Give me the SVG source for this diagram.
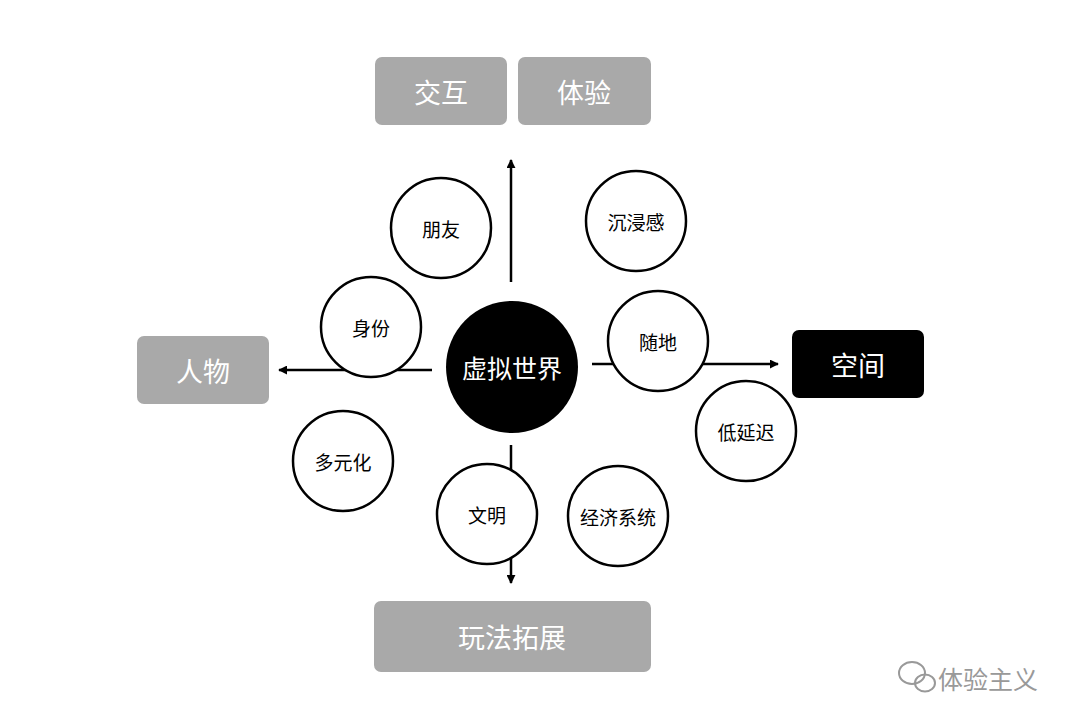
<svg xmlns="http://www.w3.org/2000/svg" width="1080" height="725" viewBox="0 0 1080 725">
<defs>
<marker id="ah" viewBox="0 0 10 10" refX="9" refY="5" markerWidth="9" markerHeight="9" markerUnits="userSpaceOnUse" orient="auto"><path d="M0,0 L10,5 L0,10 z" fill="#000"/></marker>
<style>
.box{fill:#a9a9a9}
.bt{font-family:"Noto Sans CJK SC",sans-serif;font-size:27px;fill:#fff;text-anchor:middle;dominant-baseline:central}
.c{fill:#fff;stroke:#000;stroke-width:2.5}
.ct{font-family:"Noto Sans CJK SC",sans-serif;font-size:19px;fill:#000;text-anchor:middle;dominant-baseline:central}
.ln{stroke:#000;stroke-width:2.5;fill:none;marker-end:url(#ah)}
</style>
</defs>
<rect width="1080" height="725" fill="#fff"/>
<g id="connectors">
<line class="ln" x1="511" y1="282" x2="511" y2="160"/>
<line class="ln" x1="511" y1="445" x2="511" y2="583"/>
<line class="ln" x1="432" y1="370" x2="279" y2="370"/>
<line class="ln" x1="592" y1="364" x2="778" y2="364"/>
</g>
<g id="n-jiaohu"><rect class="box" x="375" y="57" width="132" height="68" rx="7"/><text class="bt" x="441" y="91">交互</text></g>
<g id="n-tiyan"><rect class="box" x="518" y="57" width="133" height="68" rx="7"/><text class="bt" x="584" y="91">体验</text></g>
<g id="n-renwu"><rect class="box" x="137" y="336" width="132" height="68" rx="7"/><text class="bt" x="203" y="370">人物</text></g>
<g id="n-kongjian"><rect x="792" y="330" width="132" height="68" rx="7" fill="#000"/><text class="bt" x="858" y="364">空间</text></g>
<g id="n-wanfa"><rect class="box" x="374" y="601" width="277" height="71" rx="7"/><text class="bt" x="512" y="636">玩法拓展</text></g>
<g id="n-center"><circle cx="512" cy="367" r="66" fill="#000"/><text class="bt" x="512" y="367" style="font-size:25px">虚拟世界</text></g>
<g id="n-pengyou"><circle class="c" cx="441" cy="228" r="50"/><text class="ct" x="441" y="228">朋友</text></g>
<g id="n-chenjin"><circle class="c" cx="636" cy="221" r="50"/><text class="ct" x="636" y="221">沉浸感</text></g>
<g id="n-shenfen"><circle class="c" cx="371" cy="327" r="50"/><text class="ct" x="371" y="327">身份</text></g>
<g id="n-suidi"><circle class="c" cx="658" cy="341" r="50"/><text class="ct" x="658" y="341">随地</text></g>
<g id="n-duoyuan"><circle class="c" cx="343" cy="461" r="50"/><text class="ct" x="343" y="461">多元化</text></g>
<g id="n-diyanchi"><circle class="c" cx="746" cy="431" r="50"/><text class="ct" x="746" y="431">低延迟</text></g>
<g id="n-wenming"><circle class="c" cx="487" cy="514" r="50"/><text class="ct" x="487" y="514">文明</text></g>
<g id="n-jingji"><circle class="c" cx="618" cy="516" r="50"/><text class="ct" x="618" y="516">经济系统</text></g>
<g id="watermark" fill="none" stroke="#999" stroke-width="2">
<ellipse cx="912" cy="673" rx="13" ry="11"/><ellipse cx="925" cy="683" rx="10" ry="8.5"/>
<text x="938" y="678" style="font-family:'Noto Sans CJK SC',sans-serif;font-size:25px;fill:#999;stroke:none;dominant-baseline:central">体验主义</text>
</g>
</svg>
